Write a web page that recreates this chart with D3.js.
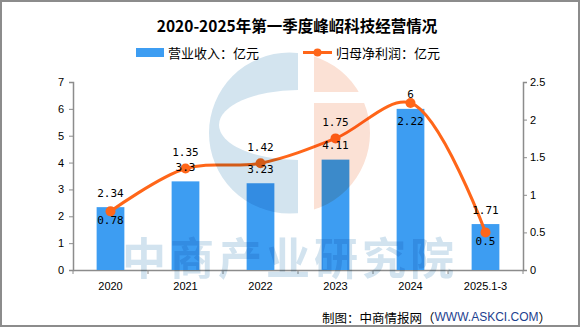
<!DOCTYPE html>
<html>
<head>
<meta charset="utf-8">
<script src="https://cdn.jsdelivr.net/npm/d3@7"></script>
<style>
  body { margin: 0; background: #fff; }
  svg { display: block; }
</style>
</head>
<body>
<svg id="chart"></svg>
<script>
// data
var years = ["2020", "2021", "2022", "2023", "2024", "2025.1-3"];
var revenue = [2.34, 3.3, 3.23, 4.11, 6, 1.71];      // 营业收入：亿元
var netProfit = [0.78, 1.35, 1.42, 1.75, 2.22, 0.5];  // 归母净利润：亿元
var leftTicks = [0, 1, 2, 3, 4, 5, 6, 7];
var rightTicks = [0, 0.5, 1, 1.5, 2, 2.5];

var W = 580, H = 327;
var margin = { top: 82, right: 57, bottom: 57, left: 73 };
var barColor = "#3d9df2", lineColor = "#ff6619", axisColor = "#8c8c8c";
var cjk = "'Noto Sans CJK SC', 'Noto Sans', sans-serif";
var mono = "'DejaVu Sans Mono', 'Liberation Mono', monospace";

var svg = d3.select("#chart").attr("width", W).attr("height", H);

// outer frame
svg.append("rect")
    .attr("x", 1).attr("y", 1)
    .attr("width", W - 2).attr("height", H - 2)
    .attr("fill", "#fff")
    .attr("stroke", axisColor).attr("stroke-width", 2);

// scales
var x = d3.scaleBand()
    .domain(years)
    .range([margin.left, W - margin.right])
    .padding(0);
var yL = d3.scaleLinear().domain([0, 7]).range([H - margin.bottom, margin.top]);
var yR = d3.scaleLinear().domain([0, 2.5]).range([H - margin.bottom, margin.top]);

// title
svg.append("text")
    .attr("x", 297).attr("y", 25)
    .attr("text-anchor", "middle")
    .attr("dominant-baseline", "central")
    .style("font-family", cjk)
    .style("font-size", "15.5px")
    .style("font-weight", "bold")
    .text("2020-2025年第一季度峰岹科技经营情况");

// legend
var legend = svg.append("g").style("font-family", cjk).style("font-size", "13px");
legend.append("rect")
    .attr("x", 136).attr("y", 48).attr("width", 28).attr("height", 9)
    .attr("fill", barColor);
legend.append("text")
    .attr("x", 168).attr("y", 52.5)
    .attr("dominant-baseline", "central")
    .text("营业收入：亿元");
legend.append("line")
    .attr("x1", 303).attr("x2", 332).attr("y1", 52.5).attr("y2", 52.5)
    .attr("stroke", lineColor).attr("stroke-width", 3);
legend.append("circle")
    .attr("cx", 317.5).attr("cy", 52.5).attr("r", 4)
    .attr("fill", lineColor);
legend.append("text")
    .attr("x", 336).attr("y", 52.5)
    .attr("dominant-baseline", "central")
    .text("归母净利润：亿元");

// watermark (multiplied over everything drawn later too)
var defs = svg.append("defs");
defs.append("clipPath").attr("id", "logoClip")
    .append("circle").attr("cx", 289.5).attr("cy", 133).attr("r", 80.5);

// left axis
var gL = svg.append("g")
    .attr("transform", `translate(${margin.left},0)`)
    .call(d3.axisLeft(yL).tickValues(leftTicks).tickFormat(d => d).tickSize(4).tickSizeOuter(4).tickPadding(5));

// right axis
var gR = svg.append("g")
    .attr("transform", `translate(${W - margin.right},0)`)
    .call(d3.axisRight(yR).tickValues(rightTicks).tickFormat(d => d).tickSize(4).tickSizeOuter(4).tickPadding(3));

// x axis: labels in band centres, ticks at band edges
var gX = svg.append("g")
    .attr("transform", `translate(0,${H - margin.bottom})`)
    .call(d3.axisBottom(x).tickSize(0).tickSizeOuter(0).tickPadding(12));
gX.selectAll(".edge")
    .data(years.concat(["end"]))
    .join("line")
    .attr("class", "edge")
    .attr("x1", (d, i) => i < years.length ? x(d) : x(years[years.length - 1]) + x.bandwidth())
    .attr("x2", (d, i) => i < years.length ? x(d) : x(years[years.length - 1]) + x.bandwidth())
    .attr("y1", 0).attr("y2", 4)
    .attr("stroke", axisColor);

[gL, gR, gX].forEach(function (g) {
    g.select(".domain").attr("stroke", axisColor).attr("stroke-width", 1.5);
    g.selectAll(".tick line").attr("stroke", axisColor);
    g.selectAll("text")
        .style("font-family", "'Liberation Sans', Arial, sans-serif")
        .style("font-size", "11px")
        .attr("fill", "#000");
});

// bars
var barW = x.bandwidth() * 0.37;
svg.selectAll(".bar")
    .data(revenue)
    .join("rect")
    .attr("class", "bar")
    .attr("x", (d, i) => x(years[i]) + (x.bandwidth() - barW) / 2)
    .attr("y", d => yL(d))
    .attr("width", barW)
    .attr("height", d => yL(0) - yL(d))
    .attr("fill", barColor);

// profit line
var cx = i => x(years[i]) + x.bandwidth() / 2;
var line = d3.line()
    .x((d, i) => cx(i))
    .y(d => yR(d))
    .curve(d3.curveCatmullRom.alpha(0.5));
svg.append("path")
    .datum(netProfit)
    .attr("d", line)
    .attr("fill", "none")
    .attr("stroke", lineColor)
    .attr("stroke-width", 3);
svg.selectAll(".pt")
    .data(netProfit)
    .join("circle")
    .attr("class", "pt")
    .attr("cx", (d, i) => cx(i))
    .attr("cy", d => yR(d))
    .attr("r", 5)
    .attr("fill", lineColor);

// value labels
var labels = svg.append("g")
    .style("font-family", mono)
    .style("font-size", "11px")
    .attr("text-anchor", "middle")
    .attr("dominant-baseline", "central");
labels.selectAll(".bl")
    .data(revenue)
    .join("text")
    .attr("x", (d, i) => cx(i))
    .attr("y", d => yL(d) - 14)
    .text(d => d);
labels.selectAll(".ll")
    .data(netProfit)
    .join("text")
    .attr("x", (d, i) => cx(i))
    .attr("y", function (d, i) {
        var py = yR(d), barLabel = yL(revenue[i]) - 14;
        if (Math.abs((py - 16) - barLabel) > 12) return py - 16;
        return Math.max(py + 9, yL(revenue[i]) + 13);
    })
    .text(d => d);

// watermark on top, multiplied
var wm = svg.append("g").style("mix-blend-mode", "multiply");
var logo = wm.append("g").attr("clip-path", "url(#logoClip)");
logo.append("rect").attr("x", 205).attr("y", 50).attr("width", 93).attr("height", 170).attr("fill", "#d3e4ef");
logo.append("ellipse").attr("cx", 298).attr("cy", 125).attr("rx", 79).attr("ry", 35).attr("fill", "#fff");
logo.append("rect").attr("x", 314).attr("y", 50).attr("width", 70).attr("height", 170).attr("fill", "#fbe1d5");
logo.append("rect").attr("x", 314).attr("y", 92).attr("width", 70).attr("height", 11).attr("fill", "#fff");
wm.append("text")
    .attr("x", 290).attr("y", 256)
    .attr("text-anchor", "middle")
    .attr("dominant-baseline", "central")
    .style("font-family", cjk)
    .style("font-size", "44px")
    .style("font-weight", "bold")
    .style("letter-spacing", "4px")
    .attr("fill", "#d2e3ef")
    .text("中商产业研究院");

// source note
var src = svg.append("text")
    .attr("x", 551).attr("y", 317)
    .attr("text-anchor", "end")
    .attr("dominant-baseline", "central")
    .style("font-family", cjk)
    .style("font-size", "12.5px");
src.append("tspan").text("制图：中商情报网（");
src.append("tspan")
    .attr("fill", "#1d3f8f")
    .style("font-family", "'Liberation Sans', Arial, sans-serif")
    .style("font-size", "12px")
    .text("WWW.ASKCI.COM");
src.append("tspan").text("）");
</script>
</body>
</html>
